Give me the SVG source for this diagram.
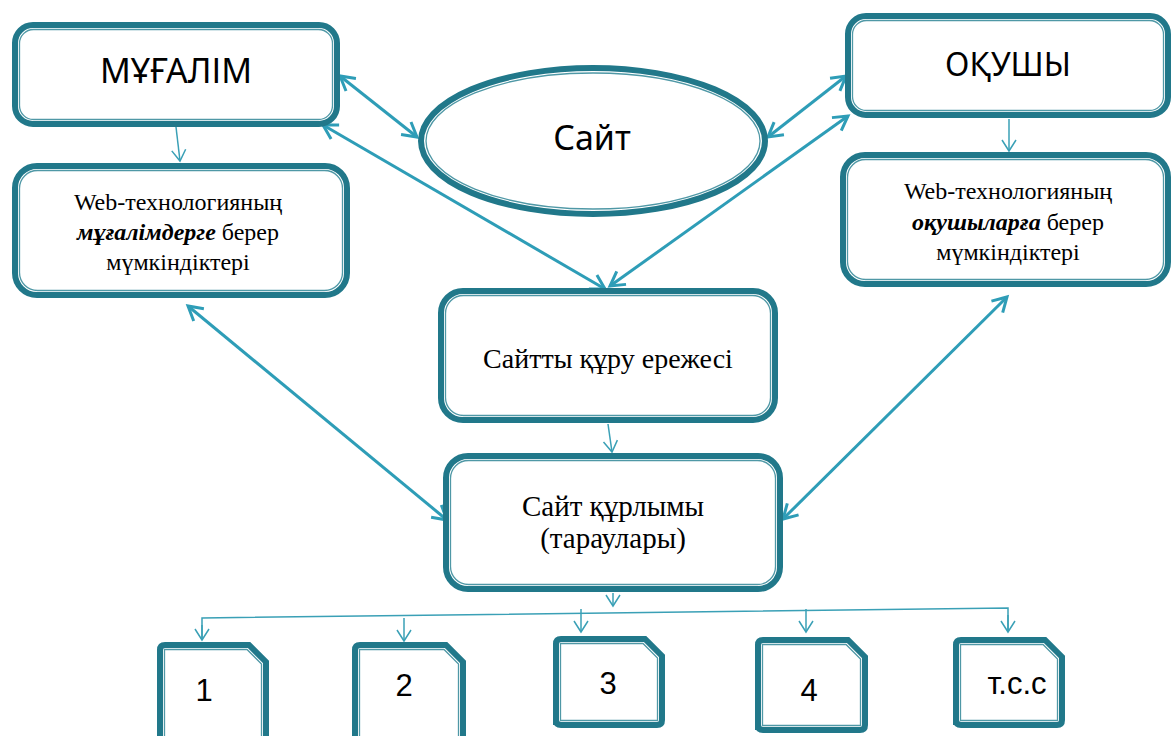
<svg xmlns="http://www.w3.org/2000/svg" width="1171" height="736" viewBox="0 0 1171 736">
<style>
.box{fill:#fff;stroke:#21788a;stroke-width:6}
.inner{fill:none;stroke:#4f98a6;stroke-width:1.3}
.thin{fill:none;stroke:#3aa0b6;stroke-width:1.5;marker-end:url(#ah)}
.link{fill:none;stroke:#3aa0b6;stroke-width:1.5}
.dbl{fill:none;stroke:#2e9db7;stroke-width:3;marker-start:url(#dh);marker-end:url(#dh)}
.sans{font-family:"Noto Sans","Open Sans",sans-serif;fill:#000;text-anchor:middle}
.serif{font-family:"Liberation Serif","Times New Roman",serif;fill:#000;text-anchor:middle}
.arial{font-family:"Liberation Sans",Arial,sans-serif;fill:#000;text-anchor:middle}
</style>
<defs>
<marker id="ah" markerUnits="userSpaceOnUse" viewBox="-12 -10 14 20" markerWidth="14" markerHeight="20" refX="0" refY="0" orient="auto" overflow="visible">
<path d="M-11,-7 L0,0 L-11,7" fill="none" stroke="#3aa0b6" stroke-width="1.5"/>
</marker>
<marker id="dh" markerUnits="userSpaceOnUse" viewBox="-16 -12 18 24" markerWidth="18" markerHeight="24" refX="0" refY="0" orient="auto-start-reverse" overflow="visible">
<path d="M-14,-8 L0,0 L-14,8" fill="none" stroke="#2e9db7" stroke-width="3"/>
</marker>
</defs>
<rect width="1171" height="736" fill="#fff"/>

<g id="connectors">
<line class="thin" x1="176" y1="127" x2="180" y2="161"/>
<line class="thin" x1="1009" y1="119" x2="1009" y2="151"/>
<line class="thin" x1="608" y1="424" x2="612" y2="452"/>
<line class="thin" x1="613" y1="593" x2="613" y2="606"/>
<polyline class="link" points="202,640 202,618 1008,608 1008,630"/>
<line class="thin" x1="202" y1="625" x2="202" y2="640"/>
<line class="thin" x1="404" y1="618" x2="404" y2="641"/>
<line class="thin" x1="581" y1="609" x2="581" y2="632"/>
<line class="thin" x1="806" y1="609" x2="806" y2="632"/>
<line class="thin" x1="1008" y1="615" x2="1008" y2="632"/>
<line class="dbl" x1="340" y1="76" x2="417" y2="137"/>
<line class="dbl" x1="323" y1="125" x2="605" y2="289"/>
<line class="dbl" x1="846" y1="76" x2="768" y2="137"/>
<line class="dbl" x1="848" y1="116" x2="610" y2="286"/>
<line class="dbl" x1="188" y1="306" x2="447" y2="520"/>
<line class="dbl" x1="1007" y1="297" x2="783" y2="519"/>
</g>

<g id="mugalim">
<rect class="box" x="15" y="25" width="322" height="99" rx="18"/>
<rect class="inner" x="19.5" y="29.5" width="313" height="90" rx="14"/>
<text class="sans" x="176" y="83" font-size="34">МҰҒАЛІМ</text>
</g>

<g id="site">
<ellipse class="box" cx="593" cy="141" rx="172" ry="73"/>
<ellipse class="inner" cx="593" cy="141" rx="167" ry="68"/>
<text class="sans" x="592" y="150" font-size="34">Сайт</text>
</g>

<g id="okushy">
<rect class="box" x="848" y="16" width="320" height="99" rx="18"/>
<rect class="inner" x="852.5" y="20.5" width="311" height="90" rx="14"/>
<text class="sans" x="1008" y="76" font-size="32">ОҚУШЫ</text>
</g>

<g id="web-teacher">
<rect class="box" x="15" y="166" width="332" height="129" rx="22"/>
<rect class="inner" x="19.5" y="170.5" width="323" height="120" rx="18"/>
<text class="serif" x="178" y="210" font-size="24">Web-технологияның</text>
<text class="serif" x="178" y="240" font-size="24"><tspan font-weight="bold" font-style="italic">мұғалімдерге</tspan> берер</text>
<text class="serif" x="178" y="270" font-size="24">мүмкіндіктері</text>
</g>

<g id="web-student">
<rect class="box" x="843" y="155" width="325" height="129" rx="22"/>
<rect class="inner" x="847.5" y="159.5" width="316" height="120" rx="18"/>
<text class="serif" x="1008" y="199" font-size="24">Web-технологияның</text>
<text class="serif" x="1008" y="230" font-size="24"><tspan font-weight="bold" font-style="italic">оқушыларға</tspan> берер</text>
<text class="serif" x="1008" y="260" font-size="24">мүмкіндіктері</text>
</g>

<g id="rules">
<rect class="box" x="441" y="291" width="334" height="129" rx="22"/>
<rect class="inner" x="445.5" y="295.5" width="325" height="120" rx="18"/>
<text class="serif" x="608" y="368" font-size="28">Сайтты құру ережесі</text>
</g>

<g id="structure">
<rect class="box" x="446" y="456" width="334" height="133" rx="22"/>
<rect class="inner" x="450.5" y="460.5" width="325" height="124" rx="18"/>
<text class="serif" x="613" y="516" font-size="29">Сайт құрлымы</text>
<text class="serif" x="613" y="548" font-size="29">(тараулары)</text>
</g>

<g id="item1">
<path class="box" d="M160,742 V650 Q160,645 165,645 H249 L266,662 V742 Z"/>
<path class="inner" d="M164.5,742 V649.5 H247 L261.5,664 V742"/>
<text class="arial" x="204" y="701" font-size="31">1</text>
</g>

<g id="item2">
<path class="box" d="M355,742 V650 Q355,645 360,645 H446 L463,662 V742 Z"/>
<path class="inner" d="M359.5,742 V649.5 H444 L458.5,664 V742"/>
<text class="arial" x="404" y="696" font-size="31">2</text>
</g>

<g id="item3">
<path class="box" d="M556,725 V644 Q556,639 561,639 H645 L662,656 V720 Q662,725 657,725 H561 Q556,725 556,720 Z"/>
<path class="inner" d="M560.5,720.5 V643.5 H643 L657.5,658 V720.5 Z"/>
<text class="arial" x="608" y="694" font-size="31">3</text>
</g>

<g id="item4">
<path class="box" d="M758,730 V645 Q758,640 763,640 H848 L865,657 V725 Q865,730 860,730 H763 Q758,730 758,725 Z"/>
<path class="inner" d="M762.5,725.5 V644.5 H846 L860.5,659 V725.5 Z"/>
<text class="arial" x="809" y="701" font-size="31">4</text>
</g>

<g id="item5">
<path class="box" d="M956,725 V645 Q956,640 961,640 H1045 L1062,657 V720 Q1062,725 1057,725 H961 Q956,725 956,720 Z"/>
<path class="inner" d="M960.5,720.5 V644.5 H1043 L1057.5,659 V720.5 Z"/>
<text class="arial" x="1017" y="694" font-size="31">т.с.с</text>
</g>
</svg>
